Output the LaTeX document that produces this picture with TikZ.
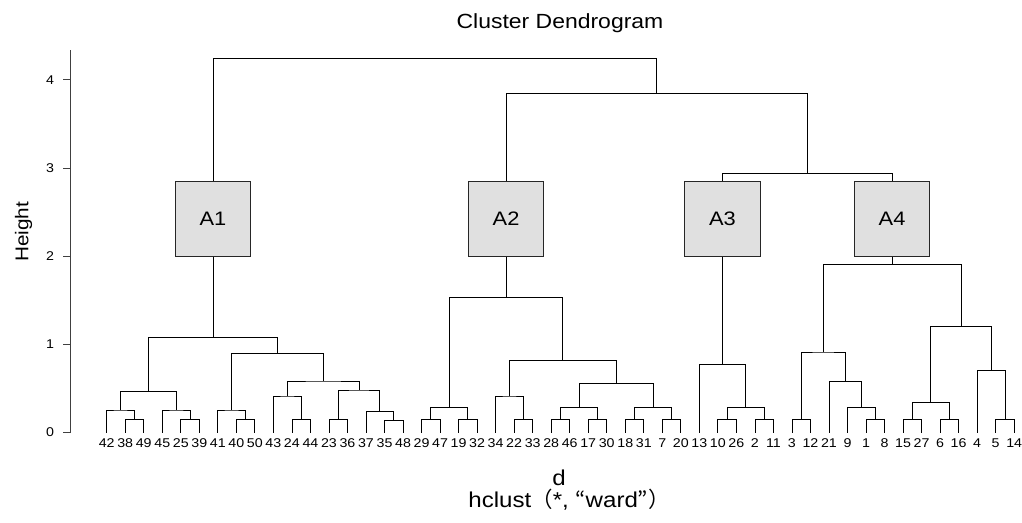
\documentclass[tikz,border=0pt]{standalone}
\usepackage{fontspec}
\setmainfont{Liberation Sans}[FakeStretch=1.12]
\newfontfamily\cjkfont{Noto Sans CJK JP}
\usetikzlibrary{calc}
\tikzset{
  dline/.style={draw=black, line width=0.8pt},
  axisline/.style={draw=black!75, line width=0.8pt},
  leaflab/.style={font=\fontsize{12.7}{15}\selectfont, inner sep=0pt, anchor=base},
  ticklab/.style={font=\fontsize{12.7}{15}\selectfont, inner sep=0pt, anchor=center},
  abox/.style={draw=black!85, fill=black!12, line width=0.8pt, minimum width=75.5pt,
    minimum height=75.7pt, inner sep=0pt, font=\fontsize{19.5}{22}\selectfont},
  titlelab/.style={font=\fontsize{20.5}{24}\selectfont, inner sep=0pt, anchor=base},
  axlab/.style={font=\fontsize{18.5}{22}\selectfont, inner sep=0pt, anchor=base},
  sublab/.style={font=\fontsize{21.5}{24}\selectfont, inner sep=0pt, anchor=base},
}
\newcommand\mrg[4]{%
  \path ($(#2)!.5!(#3)$) coordinate (#1tmp);
  \coordinate (#1) at (#1tmp |- 0,#4);
  \draw[dline] (#2) |- (#1) -| (#3);
}
\begin{document}
\begin{tikzpicture}[x=1pt,y=-1pt]
\useasboundingbox (0,0) rectangle (1022,522);
% leaves
\foreach \lab [count=\i from 0] in {42,38,49,45,25,39,41,40,50,43,24,44,23,36,37,35,48,29,47,19,32,34,22,33,28,46,17,30,18,31,7,20,13,10,26,2,11,3,12,21,9,1,8,15,27,6,16,4,5,14}{
  \coordinate (l\i) at ({106.7+18.52*\i},432.5);
  \node[leaflab] (t\i) at ({106.7+18.52*\i},447.2) {\lab};
}
% cluster A1
\mrg{qa}{l1}{l2}{419.3}
\mrg{qb}{l0}{qa}{410}
\mrg{qc}{l4}{l5}{419.3}
\mrg{qd}{l3}{qc}{410}
\mrg{qe}{qb}{qd}{391.7}
\mrg{qf}{l7}{l8}{419.3}
\mrg{qg}{l6}{qf}{410}
\mrg{qh}{l10}{l11}{419.3}
\mrg{qi}{l9}{qh}{396}
\mrg{qj}{l12}{l13}{419.3}
\mrg{qk}{l15}{l16}{420.5}
\mrg{qm}{l14}{qk}{411.5}
\mrg{qn}{qj}{qm}{390}
\mrg{qo}{qi}{qn}{381}
\mrg{qp}{qg}{qo}{353.3}
\mrg{Aam}{qe}{qp}{337.7}
% cluster A2
\mrg{qq}{l17}{l18}{419.3}
\mrg{qr}{l19}{l20}{419.3}
\mrg{qs}{qq}{qr}{407.3}
\mrg{qt}{l22}{l23}{419.3}
\mrg{qu}{l21}{qt}{396}
\mrg{qv}{l24}{l25}{419.3}
\mrg{qw}{l26}{l27}{419.3}
\mrg{qx}{qv}{qw}{407.3}
\mrg{qy}{l28}{l29}{419.3}
\mrg{qz}{l30}{l31}{419.3}
\mrg{ra}{qy}{qz}{407.3}
\mrg{rb}{qx}{ra}{383.5}
\mrg{rc}{qu}{rb}{360.7}
\mrg{Abm}{qs}{rc}{297.5}
% cluster A3
\mrg{rd}{l33}{l34}{419.3}
\mrg{re}{l35}{l36}{419.3}
\mrg{rf}{rd}{re}{407.3}
\mrg{Acm}{l32}{rf}{364.3}
% cluster A4
\mrg{rg}{l37}{l38}{419.3}
\mrg{rh}{l41}{l42}{419.3}
\mrg{ri}{l40}{rh}{407.3}
\mrg{rj}{l39}{ri}{381.7}
\mrg{rk}{rg}{rj}{352}
\mrg{rl}{l43}{l44}{419.3}
\mrg{rm}{l45}{l46}{419.3}
\mrg{rn}{rl}{rm}{402.7}
\mrg{ro}{l48}{l49}{419.3}
\mrg{rp}{l47}{ro}{370.7}
\mrg{rq}{rn}{rp}{326.7}
\mrg{Adm}{rk}{rq}{264.3}
% boxes
\node[abox] (A1) at (Aam |- 0,218.9) {A1};
\node[abox] (A2) at (Abm |- 0,218.9) {A2};
\node[abox] (A3) at (Acm |- 0,218.9) {A3};
\node[abox] (A4) at (Adm |- 0,218.9) {A4};
\draw[dline] (Aam) -- (A1.south);
\draw[dline] (Abm) -- (A2.south);
\draw[dline] (Acm) -- (A3.south);
\draw[dline] (Adm) -- (A4.south);
% upper levels
\path ($(A3)!.5!(A4)$) coordinate (cdtmp);
\coordinate (cdm) at (cdtmp |- 0,173.3);
\draw[dline] (A3.north) |- (cdm) -| (A4.north);
\path ($(A2)!.5!(cdm)$) coordinate (bcdtmp);
\coordinate (bcdm) at (bcdtmp |- 0,93.3);
\draw[dline] (A2.north) |- (bcdm) -| (cdm);
\path ($(A1)!.5!(bcdm)$) coordinate (roottmp);
\coordinate (root) at (roottmp |- 0,58.3);
\draw[dline] (A1.north) |- (root) -| (bcdm);
% axis
\coordinate (axtop) at (70,50);
\coordinate (axbot) at (70,432.5);
\draw[axisline] (axtop) -- (axbot);
\foreach \k in {0,...,4}{
  \coordinate (tk\k) at (70,{432.5-88.2*\k});
  \coordinate (tke\k) at (63,{432.5-88.2*\k});
  \draw[axisline] (tk\k) -- (tke\k);
  \node[ticklab] (tl\k) at (50,{432.5-88.2*\k}) {\k};
}
% labels
\node[titlelab] (title) at (560,28.3) {Cluster Dendrogram};
\node[axlab, rotate=90] (ylab) at (28.3,232) {Height};
\node[sublab] (xlab) at (559,485.5) {d};
\node[sublab] (sub) at (569,507) {hclust{\cjkfont（}*, {\cjkfont “}ward{\cjkfont ”）}};
\end{tikzpicture}
\end{document}
